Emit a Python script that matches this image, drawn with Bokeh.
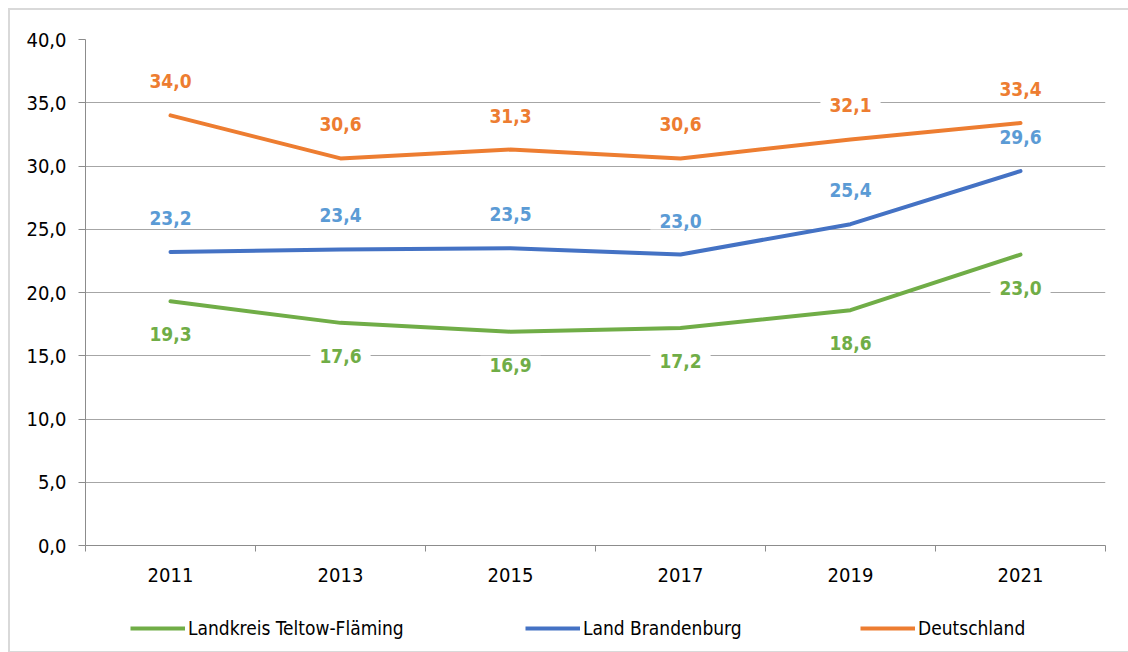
import numpy as np
from bokeh.plotting import figure
from bokeh.layouts import column
from bokeh.models import (ColumnDataSource, Legend, LegendItem,
                          FixedTicker, Range1d)
from bokeh.core.properties import value
from bokeh.embed import file_html
from bokeh.resources import INLINE

# ---- data ----
years = [2011, 2013, 2015, 2017, 2019, 2021]
teltow = [19.3, 17.6, 16.9, 17.2, 18.6, 23.0]
brandenburg = [23.2, 23.4, 23.5, 23.0, 25.4, 29.6]
deutschland = [34.0, 30.6, 31.3, 30.6, 32.1, 33.4]
series_names = ["Landkreis Teltow-Fläming", "Land Brandenburg", "Deutschland"]
y_ticks = [0, 5, 10, 15, 20, 25, 30, 35, 40]

FONT = "DejaVu Sans Condensed"
line_colors = ["#70AD47", "#4472C4", "#ED7D31"]
label_colors = ["#70AD47", "#5B9BD5", "#ED7D31"]
placement = ["below", "above", "above"]
legend_x = [45, 440, 775]   # legend entry positions (screen px, from frame left)

def fmt(v):
    return f"{v:.1f}".replace(".", ",")

p = figure(frame_width=1020, frame_height=506, output_backend="svg",
           toolbar_location=None,
           x_range=Range1d(2010, 2022), y_range=Range1d(0, 40),
           min_border_left=75, min_border_right=23, min_border_top=29,
           min_border_bottom=60)
p.outline_line_color = None

# axes
p.xaxis.ticker = FixedTicker(ticks=years, minor_ticks=list(range(2010, 2023, 2)))
p.xaxis.major_label_overrides = {y: str(y) for y in years}
p.xaxis.major_tick_out = 0
p.xaxis.major_tick_in = 0
p.xaxis.minor_tick_out = 6
p.xaxis.minor_tick_in = 0
p.yaxis.ticker = FixedTicker(ticks=y_ticks)
p.yaxis.major_label_overrides = {t: fmt(t) for t in y_ticks}
p.yaxis.major_tick_out = 7
p.yaxis.major_tick_in = 0
for ax in (p.xaxis, p.yaxis):
    ax.axis_line_color = "#8c8c8c"
    ax.major_tick_line_color = "#8c8c8c"
    ax.minor_tick_line_color = "#8c8c8c"
    ax.major_label_text_font = FONT
    ax.major_label_text_font_size = "20px"
    ax.major_label_text_color = "#000000"
p.yaxis.minor_tick_line_color = None
p.xaxis.major_label_standoff = 16
p.yaxis.major_label_standoff = 12

p.xgrid.grid_line_color = None
p.ygrid.grid_line_color = "#a6a6a6"
p.ygrid.grid_line_width = 1

sources = []
for name, vals, lc in zip(series_names, [teltow, brandenburg, deutschland], line_colors):
    src = ColumnDataSource(dict(x=years, y=vals, t=[fmt(v) for v in vals]))
    sources.append(src)
    p.line("x", "y", source=src, line_color=lc, line_width=4,
           line_cap="round", line_join="round")

for src, tc, place in zip(sources, label_colors, placement):
    off = -34 if place == "above" else 33
    p.text("x", "y", text="t", source=src, y_offset=off,
           text_align="center", text_baseline="middle",
           text_font=value(FONT), text_font_size="19px", text_font_style="bold",
           text_color=tc, background_fill_color="white", padding=[9, 2])

# ---- legend strip ----
lg = figure(width=1118, height=46, output_backend="svg", toolbar_location=None,
            x_axis_type=None, y_axis_type=None, min_border=0,
            x_range=Range1d(0, 1), y_range=Range1d(0, 1))
lg.outline_line_color = None
lg.grid.visible = False
for name, lc, lx, src in zip(series_names, line_colors, legend_x, sources):
    r = lg.line("x", "y", source=src, line_color=lc, line_width=4, visible=False)
    leg = Legend(items=[LegendItem(label=name, renderers=[r])],
                 location=(lx, 12), glyph_width=55, glyph_height=20,
                 label_standoff=3, padding=0, margin=0,
                 inactive_fill_alpha=0,
                 border_line_alpha=0, background_fill_alpha=0,
                 label_text_font=FONT, label_text_font_size="19px",
                 label_text_color="#000000")
    lg.add_layout(leg)

layout = column(p, lg, spacing=0,
                styles={"border": "2px solid #d9d9d9", "margin-left": "8px",
                        "margin-top": "8px"})

open("out.html", "w").write(file_html(layout, INLINE))
